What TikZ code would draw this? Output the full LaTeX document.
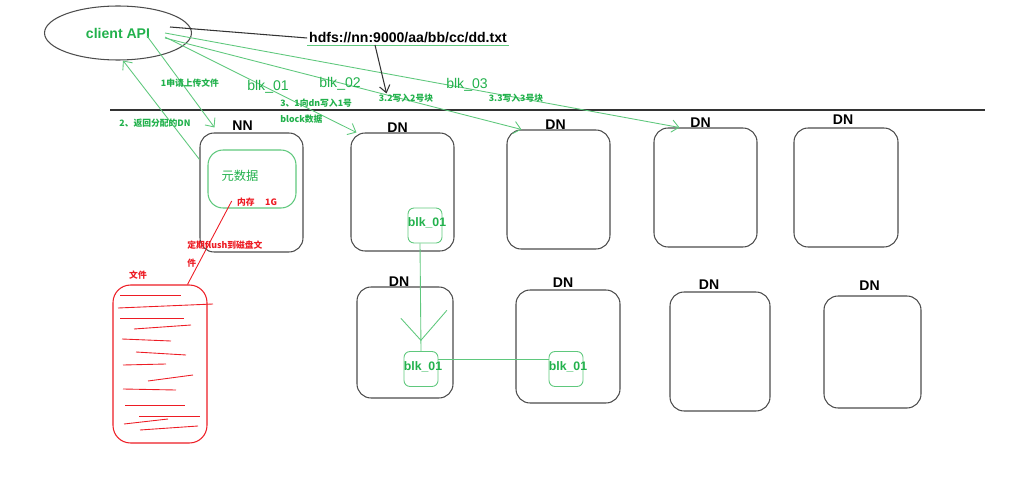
\documentclass[tikz,border=0pt]{standalone}
\usepackage{fontspec}
\setmainfont{Liberation Sans}
\newfontfamily\cjk{Noto Sans CJK SC}
\usetikzlibrary{arrows.meta,positioning,shapes.geometric}
\definecolor{pgreen}{RGB}{34,177,76}
\definecolor{lgreen}{RGB}{95,200,125}
\definecolor{pred}{RGB}{237,28,36}

\begin{document}
\begin{tikzpicture}[x=0.02cm,y=-0.02cm,
  box/.style={draw=black!70,line width=0.6pt,rounded corners=0.28cm},
  ttl/.style={font=\bfseries\fontsize{8}{9}\selectfont,inner sep=0pt},
  blk/.style={draw=lgreen,line width=0.5pt,rounded corners=0.12cm,minimum width=0.68cm,minimum height=0.7cm,inner sep=0pt},
  blktxt/.style={font=\bfseries\fontsize{7}{8}\selectfont,text=pgreen,inner sep=0pt},
  tag/.style={font=\fontsize{8}{9}\selectfont,text=pgreen,inner sep=0pt},
  note/.style={font=\cjk\bfseries\fontsize{5}{9}\selectfont,text=pgreen,inner sep=0pt},
  rnote/.style={font=\cjk\bfseries\fontsize{5}{10}\selectfont,text=pred,inner sep=0pt},
  gl/.style={draw=lgreen,line width=0.5pt},
  ga/.style={gl,-{Straight Barb[length=4pt,width=7pt]}},
  rl/.style={draw=pred,line width=0.5pt}]

  \useasboundingbox (0,0) rectangle (1030,483);

  \node[ellipse,draw=black!70,line width=0.6pt,minimum width=2.94cm,minimum height=1.08cm,inner sep=0pt,
        font=\bfseries\fontsize{8}{9}\selectfont,text=pgreen] (cl) at (118,33) {client API};
  \node[font=\bfseries\fontsize{8}{9}\selectfont,inner sep=1pt] (hdfs) at (408,38) {hdfs://nn:9000/aa/bb/cc/dd.txt};
  \draw[gl] (hdfs.south west) -- (hdfs.south east);
  \draw[black!80,line width=0.6pt] ([shift={(52,-6)}]cl.center) -- (hdfs.west);

  \draw[black!80,line width=0.6pt] (110,110) -- (985,110);

  \node[box,minimum width=2.06cm,minimum height=2.38cm] (nn) at (251.5,192.5) {};
  \node[ttl,above=1pt of nn,xshift=-0.18cm] (nnt) {NN};
  \node[draw=lgreen,line width=0.6pt,rounded corners=0.3cm,minimum width=1.76cm,minimum height=1.16cm] (meta) at (252,179) {};
  \node[font=\cjk\fontsize{7}{8}\selectfont,text=pgreen] (yuan) at (240,176) {元数据};
  \node[font=\cjk\bfseries\fontsize{5}{6}\selectfont,text=pred,inner sep=0pt] (mem) at (257,202) {内存\hspace{6pt}1G};

  \node[box,minimum width=2.06cm,minimum height=2.36cm] (d1) at (402.5,192) {};
  \node[box,minimum width=2.06cm,minimum height=2.38cm] (d2) at (558.5,189.5) {};
  \node[box,minimum width=2.06cm,minimum height=2.38cm] (d3) at (705.5,187.5) {};
  \node[box,minimum width=2.08cm,minimum height=2.38cm] (d4) at (846,187.5) {};
  \node[box,minimum width=1.92cm,minimum height=2.22cm] (d5) at (405,342.5) {};
  \node[box,minimum width=2.08cm,minimum height=2.26cm] (d6) at (568,346.5) {};
  \node[box,minimum width=2.00cm,minimum height=2.38cm] (d7) at (720,351.5) {};
  \node[box,minimum width=1.94cm,minimum height=2.24cm] (d8) at (872.5,352) {};
  \node[ttl,above=0pt of d1,xshift=-0.1cm] (d1t) {DN};
  \node[ttl,above=0pt of d2,xshift=-0.06cm] (d2t) {DN};
  \node[ttl,above=0pt of d3,xshift=-0.1cm] (d3t) {DN};
  \node[ttl,above=1.5pt of d4,xshift=-0.06cm] (d4t) {DN};
  \node[ttl,above=0pt of d5,xshift=-0.12cm] (d5t) {DN};
  \node[ttl,above=1pt of d6,xshift=-0.1cm] (d6t) {DN};
  \node[ttl,above=1pt of d7,xshift=-0.22cm] (d7t) {DN};
  \node[ttl,above=2.5pt of d8,xshift=-0.06cm] (d8t) {DN};

  \node[blk,label={[blktxt,xshift=0.04cm,yshift=0.06cm]center:blk\_01}] (b1) at (425,225.5) {};
  \node[blk,label={[blktxt,xshift=0.04cm,yshift=0.04cm]center:blk\_01}] (b2) at (421,369) {};
  \node[blk,label={[blktxt,xshift=0.04cm,yshift=0.04cm]center:blk\_01}] (b3) at (566,369) {};
  \draw[gl] ([xshift=-0.1cm]b1.south) -- coordinate[pos=0.9] (v) (b2.north);
  \draw[gl] ([shift={(-20,-22)}]v) -- (v) -- ([shift={(26,-30)}]v);
  \draw[gl] ([yshift=0.2cm]b2.east) -- ([yshift=0.2cm]b3.west);

  \draw[ga] ([shift={(29,3)}]cl.center) -- ([shift={(15,-5)}]nn.north west);
  \draw[ga] ([shift={(0,27)}]nn.north west) -- ([shift={(5,0)}]cl.south);
  \draw[ga] ([shift={(47,4)}]cl.center) -- ([shift={(6,0)}]d1.north west);
  \draw[ga] ([shift={(47,5)}]cl.center) -- ([shift={(15,0)}]d2.north west);
  \draw[ga] ([shift={(47,0)}]cl.center) -- ([shift={(26,0)}]d3.north west);

  \node[tag] (t1) at (268,87) {blk\_01};
  \node[tag] (t2) at (340,84) {blk\_02};
  \node[tag] (t3) at (467,85) {blk\_03};
  \node[note] (n1) at (190,83) {1申请上传文件};
  \node[note] (n2) at (155,123) {2、返回分配的DN};
  \node[note,align=left,anchor=west] (n3) at (280,111) {3、1向dn写入1号\\block数据};
  \node[note] (n32) at (406,98) {3.2写入2号块};
  \node[note] (n33) at (516,98) {3.3写入3号块};
  \draw[black!80,line width=0.6pt,-{Straight Barb[length=4pt,width=6pt]}] ([shift={(-33,7)}]hdfs.center) -- ([shift={(8,0)}]n32.north west);

  \node[rnote] (wj) at (138,275) {文件};
  \node[draw=pred,line width=0.6pt,rounded corners=0.35cm,minimum width=1.88cm,minimum height=3.16cm] (file) at (160,364) {};
  \node[rnote,align=left,anchor=west] (flush) at (187,254) {定期flush到磁盘文\\件};
  \draw[rl] ([shift={(-5,-1)}]mem.west) -- ([shift={(75,0)}]file.north west);
  \foreach \a/\b/\c/\d in {120/295/181/295, 118/308/213/304, 120/318/184/318, 134/329/191/325,
      122/339/171/341, 136/352/186/355, 123/365/166/364, 148/381/193/375, 123/389/176/390,
      125/405/185/405, 139/416/200/416, 124/424/168/419, 140/430/198/426}
    \draw[rl] (\a,\b) -- (\c,\d);
\end{tikzpicture}
\end{document}
